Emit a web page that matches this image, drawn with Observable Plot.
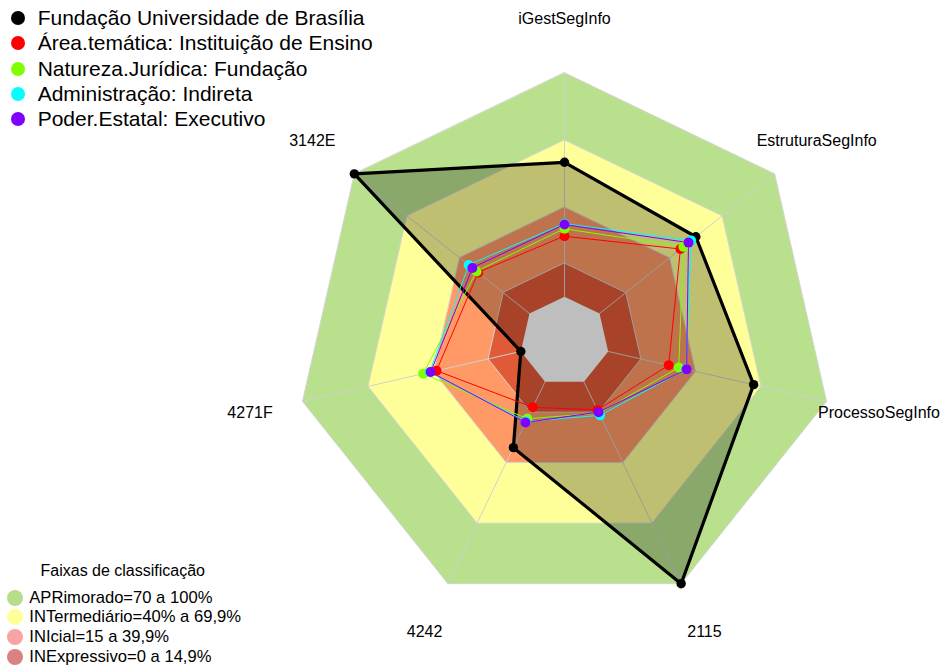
<!DOCTYPE html>
<html><head><meta charset="utf-8">
<script src="https://cdn.jsdelivr.net/npm/d3@7"></script>
<script src="https://cdn.jsdelivr.net/npm/@observablehq/plot@0.6"></script>
<style>
body{margin:0;background:#fff;font-family:"Liberation Sans",Arial,sans-serif;}
#wrap{position:relative;width:944px;height:668px;overflow:hidden;}
#chart{position:absolute;left:0;top:0;}
.item{position:absolute;left:0;white-space:nowrap;display:flex;align-items:center;color:#000;}
.sw{border-radius:50%;display:inline-block;flex:none;}
#legTitle{position:absolute;white-space:nowrap;color:#000;}
</style></head><body>
<div id="wrap"><div id="chart"></div><div id="legTop"></div><div id="legBot"></div></div>
<script>
// ---- data ----
const axes = ["iGestSegInfo","EstruturaSegInfo","ProcessoSegInfo","2115","4242","4271F","3142E"];
const seriesNames = ["Fundação Universidade de Brasília","Área.temática: Instituição de Ensino","Natureza.Jurídica: Fundação","Administração: Indireta","Poder.Estatal: Executivo"];
const seriesColors = ["#000000","#FF0000","#7FFF00","#00FFFF","#7F00FF"];
const unb           = [60, 55, 66.6, 100, 32.6, 0, 100];
const areaTematica  = [27, 46.2, 27.7, 13.9, 12.6, 38.6, 29.3];
const natureza      = [30.3, 47.9, 32.3, 15.5, 18.3, 44.7, 30.2];
const administracao = [32.6, 52.3, 35.6, 16.6, 19.6, 41.8, 34.7];
const poder         = [32.2, 50.8, 35.9, 15.0, 20.1, 41.3, 32.6];
const seriesValues = [unb, areaTematica, natureza, administracao, poder];

const scaleMin = -20, scaleMax = 100;
const bandUpper = [100, 70, 40, 15, 0];
const bandFill  = ["#B9E08D","#FFFF99","#FF9A66","#E05A38","#BEBEBE"];
const bandLabels = ["APRimorado=70 a 100%","INTermediário=40% a 69,9%","INIcial=15 a 39,9%","INExpressivo=0 a 14,9%"];
const bandLegendColors = ["#B5DD8A","#FFFF99","#F9A3A3","#D98282"];
const legendTitle = "Faixas de classificação";

// ---- geometry helpers ----
const n = axes.length;
const frac = v => (v - scaleMin) / (scaleMax - scaleMin);
const ang = i => i * 2 * Math.PI / n;
const px = (i, f) => f * Math.sin(ang(i));
const py = (i, f) => f * Math.cos(ang(i));

const R = 268.8, CX = 564, CY = 341, W = 944, H = 668;

const bandRows = bandUpper.flatMap((u, b) => axes.map((a, i) => ({b, x: px(i, frac(u)), y: py(i, frac(u))})));
const outerBands = bandRows.filter(d => d.b < 4);
const centerBand = bandRows.filter(d => d.b === 4);
const spokes = axes.flatMap((a, i) => [{i, x: 0, y: 0}, {i, x: px(i, 1), y: py(i, 1)}]);
const labels = axes.map((a, i) => ({a, x: px(i, 1.2), y: py(i, 1.2)}));
const pts = seriesValues.flatMap((vals, s) => vals.map((v, i) => ({s, x: px(i, frac(v)), y: py(i, frac(v))})));
const black = pts.filter(d => d.s === 0);
const others = pts.filter(d => d.s > 0);

const chart = Plot.plot({
  width: W, height: H, margin: 0,
  x: {domain: [-CX / R, (W - CX) / R], axis: null},
  y: {domain: [-(H - CY) / R, CY / R], axis: null},
  style: {fontFamily: '"Liberation Sans", Arial, sans-serif', background: "transparent", overflow: "visible"},
  marks: [
    Plot.line(outerBands, {x: "x", y: "y", z: "b", curve: "linear-closed", fill: d => bandFill[d.b], stroke: "#D4D4D4", strokeWidth: 1}),
    Plot.line(spokes, {x: "x", y: "y", z: "i", stroke: "#D0D0D0", strokeWidth: 1}),
    Plot.line(black, {x: "x", y: "y", curve: "linear-closed", fill: "black", fillOpacity: 0.25, stroke: "none"}),
    Plot.line(centerBand, {x: "x", y: "y", curve: "linear-closed", fill: bandFill[4], stroke: "none"}),
    Plot.line(black, {x: "x", y: "y", curve: "linear-closed", stroke: "black", strokeWidth: 3.2}),
    Plot.dot(black, {x: "x", y: "y", r: 4.7, fill: "black", stroke: "none"}),
    Plot.line(others, {x: "x", y: "y", z: "s", curve: "linear-closed", stroke: d => seriesColors[d.s], strokeWidth: 1}),
    Plot.dot(others, {x: "x", y: "y", r: 5, fill: d => seriesColors[d.s], stroke: "none"}),
    Plot.text(labels, {x: "x", y: "y", text: "a", fontSize: 16, fill: "black", textAnchor: "middle", lineAnchor: "middle"})
  ]
});
document.getElementById("chart").append(chart);

// ---- legends ----
const legTopEl = document.getElementById("legTop");
seriesNames.forEach((name, k) => {
  const d = document.createElement("div");
  d.className = "item";
  d.style.top = (18 + 25.25 * k - 13) + "px";
  d.style.height = "26px";
  d.style.fontSize = "21px";
  d.innerHTML = `<span class="sw" style="width:14px;height:14px;margin-left:11.3px;margin-right:12.4px;background:${seriesColors[k]}"></span><span>${name}</span>`;
  legTopEl.append(d);
});
const legBotEl = document.getElementById("legBot");
const t = document.createElement("div");
t.id = "legTitle"; t.textContent = legendTitle;
t.style.fontSize = "16px"; t.style.left = "40.5px"; t.style.top = "562px";
legBotEl.append(t);
bandLabels.forEach((lab, k) => {
  const d = document.createElement("div");
  d.className = "item";
  d.style.top = (597.7 + 19.7 * k - 10) + "px";
  d.style.height = "20px";
  d.style.fontSize = "16.6px";
  d.innerHTML = `<span class="sw" style="width:16px;height:16px;margin-left:6.5px;margin-right:6.8px;background:${bandLegendColors[k]}"></span><span>${lab}</span>`;
  legBotEl.append(d);
});
</script></body></html>
